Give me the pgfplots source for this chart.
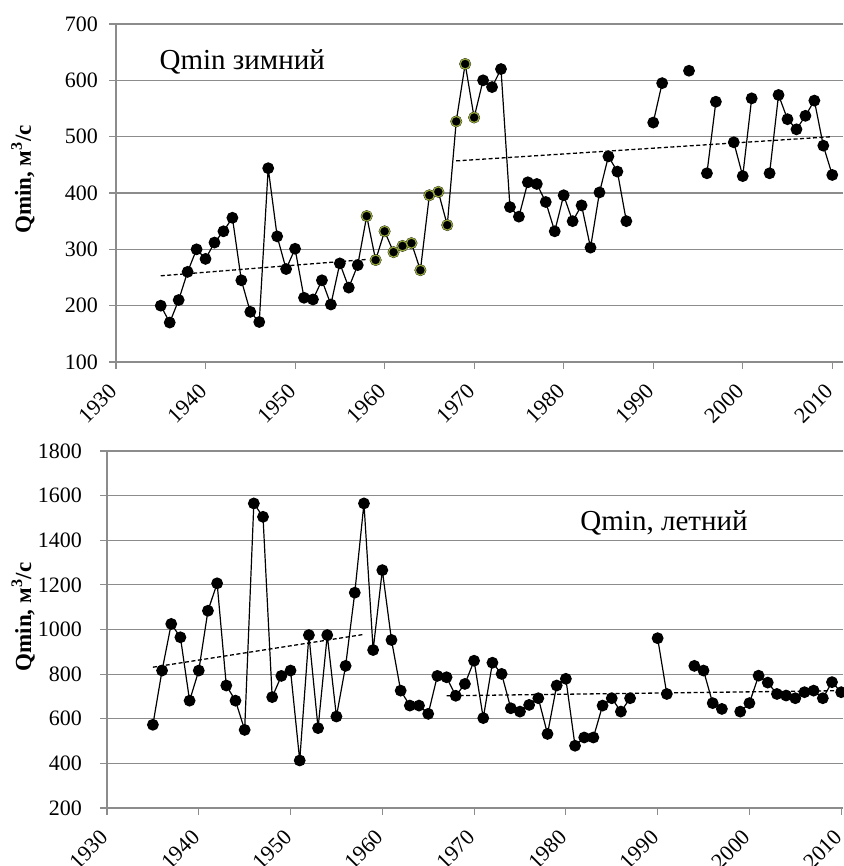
\documentclass[border=0pt]{standalone}
\usepackage{fontspec}
\setmainfont{Liberation Serif}
\usepackage{pgfplots}
\pgfplotsset{compat=1.18}
\definecolor{gridgray}{RGB}{140,140,140}
\definecolor{olivegreen}{RGB}{150,170,60}
\pgfplotsset{
  myaxis/.style={
    scale only axis,
    anchor=south west,
    axis lines*=left,
    axis line style={gridgray, line width=1.1pt},
    ymajorgrids,
    grid style={gridgray, line width=1.1pt},
    tick align=outside,
    major tick length=7pt,
    tick style={gridgray, line width=1.1pt},
    xtick={1930,1940,...,2010},
    xmin=1930,
    /pgf/number format/assume math mode=true,
    /pgf/number format/set thousands separator={},
    tick label style={font=\fontsize{22}{24}\selectfont},
    xticklabel style={xshift=-8pt, rotate=45, anchor=north east, inner sep=1pt},
    yticklabel style={inner sep=1pt},
    unbounded coords=jump,
    clip=false,
  },
  data/.style={black, line width=1.2pt, mark=*, mark size=5.3pt, mark options={solid, fill=black, draw=black}},
  trend/.style={black, line width=1.3pt, dash pattern=on 4pt off 2.5pt, no marks},
}
\begin{document}
\begin{tikzpicture}[x=1pt,y=1pt]
\path[use as bounding box] (0,0) rectangle (843,866);
% ---------------- top: winter ----------------
\begin{axis}[myaxis,
  at={(116pt,504pt)}, width=727pt, height=338pt,
  xmax=2011.2, ymin=100, ymax=700, ytick={100,200,...,700},
  xticklabel shift=12pt,
  yticklabel shift=10pt,
  ylabel={\bfseries Qmin, м\textsuperscript{3}/с},
  ylabel style={at={(axis description cs:-0.128,0.54)}, rotate=0, anchor=center, font=\fontsize{23}{26}\selectfont},
]
\addplot[trend] coordinates {(1935,253) (1958,282)};
\addplot[trend] coordinates {(1968,457) (2010,500)};
\addplot[data] table {
x y
1935 200
1936 170
1937 210
1938 260
1939 300
1940 283
1941 312
1942 332
1943 356
1944 245
1945 189
1946 171
1947 444
1948 323
1949 265
1950 301
1951 214
1952 211
1953 245
1954 202
1955 275
1956 232
1957 272
1958 359
1959 281
1960 332
1961 295
1962 306
1963 311
1964 263
1965 396
1966 402
1967 343
1968 527
1969 629
1970 534
1971 600
1972 588
1973 620
1974 375
1975 358
1976 419
1977 416
1978 384
1979 332
1980 396
1981 350
1982 378
1983 303
1984 401
1985 465
1986 438
1987 350
1988 nan
1989 nan
1990 525
1991 595
1992 nan
1993 nan
1994 617
1995 nan
1996 435
1997 562
1998 nan
1999 490
2000 430
2001 568
2002 nan
2003 435
2004 574
2005 531
2006 513
2007 537
2008 564
2009 484
2010 432
};
\addplot[only marks, mark=*, mark size=5.0pt, mark options={fill=black, draw=olivegreen, line width=1.2pt}] table {
x y
1958 359
1959 281
1960 332
1961 295
1962 306
1963 311
1964 263
1965 396
1966 402
1967 343
1968 527
1969 629
1970 534
};
\node[font=\fontsize{29}{32}\selectfont] at (axis cs:1944.1,633) {Qmin зимний};
\end{axis}
% ---------------- bottom: summer ----------------
\begin{axis}[myaxis,
  at={(107pt,58pt)}, width=736pt, height=357pt,
  xmax=2010.2, ymin=200, ymax=1800, ytick={200,400,...,1800},
  xticklabel shift=12pt,
  yticklabel shift=17pt,
  ylabel={\bfseries Qmin, м\textsuperscript{3}/с},
  ylabel style={at={(axis description cs:-0.114,0.535)}, rotate=0, anchor=center, font=\fontsize{23}{26}\selectfont},
]
\addplot[trend] coordinates {(1935,831) (1958,978)};
\addplot[trend] coordinates {(1967,703) (2010.2,726)};
\addplot[data] table {
x y
1935 573
1936 816
1937 1025
1938 965
1939 681
1940 816
1941 1084
1942 1207
1943 749
1944 681
1945 550
1946 1565
1947 1505
1948 697
1949 792
1950 816
1951 413
1952 975
1953 558
1954 975
1955 610
1956 837
1957 1165
1958 1565
1959 908
1960 1266
1961 953
1962 726
1963 659
1964 659
1965 622
1966 792
1967 786
1968 703
1969 756
1970 860
1971 603
1972 851
1973 801
1974 647
1975 632
1976 662
1977 692
1978 532
1979 749
1980 779
1981 479
1982 516
1983 516
1984 659
1985 692
1986 632
1987 692
1988 nan
1989 nan
1990 961
1991 711
1992 nan
1993 nan
1994 837
1995 816
1996 670
1997 644
1998 nan
1999 632
2000 670
2001 793
2002 762
2003 711
2004 704
2005 692
2006 719
2007 726
2008 692
2009 764
2010 719
};
\node[font=\fontsize{29}{32}\selectfont] at (axis cs:1990.7,1477) {Qmin, летний};
\end{axis}
\end{tikzpicture}
\end{document}
